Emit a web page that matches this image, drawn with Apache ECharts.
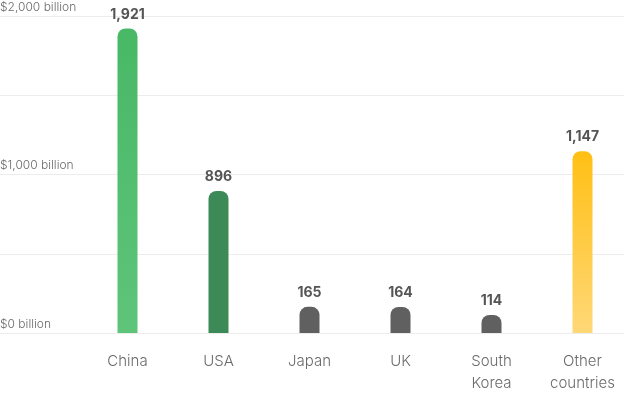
<!DOCTYPE html>
<html><head><meta charset="utf-8">
<script src="https://cdn.jsdelivr.net/npm/echarts@6/dist/echarts.min.js"></script>
<style>html,body{margin:0;padding:0;background:#fff}#c{width:629px;height:393px}</style>
</head><body><div id="c"></div>
<script>
const categories = ['China', 'USA', 'Japan', 'UK', 'South\nKorea', 'Other\ncountries'];
const values = [1921, 896, 165, 164, 114, 1147];
const tickLabels = {0: '$0 billion', 1000: '$1,000 billion', 2000: '$2,000 billion'};

const grad = (top, bottom) => new echarts.graphic.LinearGradient(0, 0, 0, 1, [{offset: 0, color: top}, {offset: 1, color: bottom}]);
const barColors = [grad('#48b866', '#5ec47a'), '#3b8a58', '#606060', '#606060', '#606060', grad('#ffbf14', '#ffd877')];

const chart = echarts.init(document.getElementById('c'));
chart.setOption({
  animation: false,
  textStyle: {fontFamily: 'Inter, sans-serif'},
  grid: [
    {left: 0, right: 5, top: 16, bottom: 60, containLabel: false, outerBoundsMode: 'none'},
    {left: 82, right: 1, top: 16, bottom: 60, containLabel: false, outerBoundsMode: 'none'}
  ],
  xAxis: [
    {gridIndex: 0, type: 'category', data: categories, show: false},
    {gridIndex: 1, type: 'category', data: categories,
     axisLine: {show: false}, axisTick: {show: false},
     axisLabel: {color: '#6a6a6a', fontSize: 15, margin: 17, lineHeight: 22, fontWeight: 300}}
  ],
  yAxis: [
    {gridIndex: 0, type: 'value', min: 0, max: 2000, interval: 500,
     axisLine: {show: false}, axisTick: {show: false},
     splitLine: {lineStyle: {color: '#ececec', width: 1}},
     axisLabel: {inside: true, margin: 0, verticalAlign: 'bottom', padding: [0, 0, 3, 0],
       color: '#6a6a6a', fontSize: 12, fontWeight: 300, formatter: v => tickLabels[v] || ''}},
    {gridIndex: 1, type: 'value', min: 0, max: 2000, interval: 500, show: false, splitLine: {show: false}}
  ],
  series: [{
    type: 'bar', xAxisIndex: 1, yAxisIndex: 1, barWidth: 20,
    data: values.map((v, i) => ({value: v, itemStyle: {color: barColors[i]}})),
    itemStyle: {borderRadius: [8, 8, 0, 0]},
    label: {show: true, position: 'top', distance: 7, color: '#555', fontSize: 14, fontWeight: 'bold',
      formatter: p => p.value.toLocaleString('en-US')}
  }]
});
</script></body></html>
